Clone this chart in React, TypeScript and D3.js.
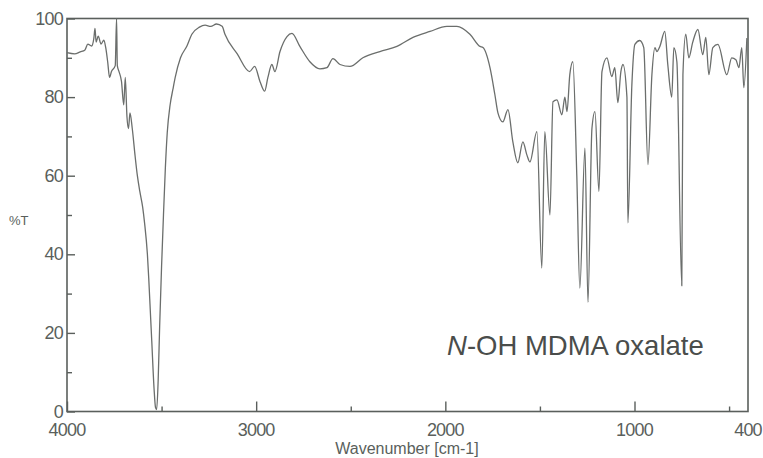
import React, { useEffect, useRef } from 'react';
import * as d3 from 'd3';

// spectrum: wavenumber (cm-1) and %T
const wavenumbers = [
    4000, 3960, 3930, 3905, 3890, 3870, 3858, 3852, 3846, 3835, 3820, 3805, 3795, 3785,
    3775, 3765, 3745, 3738, 3734, 3725, 3712, 3700, 3692, 3683, 3675, 3667, 3655, 3640,
    3628, 3615, 3600, 3590, 3575, 3568, 3560, 3552, 3540, 3532, 3526, 3518, 3510, 3500,
    3490, 3480, 3470, 3455, 3440, 3428, 3400, 3366, 3340, 3300, 3270, 3240, 3210, 3180,
    3165, 3100, 3035, 3008, 2980, 2955, 2938, 2917, 2901, 2874, 2837, 2811, 2769, 2716,
    2663, 2626, 2594, 2557, 2504, 2436, 2346, 2256, 2171, 2081, 1992, 1939, 1870, 1817,
    1801, 1764, 1738, 1722, 1696, 1669, 1643, 1617, 1590, 1569, 1553, 1516, 1490, 1474,
    1447, 1431, 1410, 1384, 1368, 1357, 1342, 1326, 1305, 1289, 1262, 1246, 1225, 1209,
    1188, 1172, 1146, 1120, 1104, 1088, 1072, 1061, 1040, 1035, 1014, 998, 972, 951,
    929, 908, 892, 882, 866, 840, 824, 803, 792, 776, 750, 744, 729, 713,
    692, 665, 639, 623, 607, 586, 559, 512, 486, 464, 448, 433, 422, 406,
];
const transmittance = [
    91.3, 91, 91.5, 92, 93.5, 93, 95, 97.5, 94, 95.5, 93.5, 94.5, 92.5, 89,
    85, 86.5, 88, 100, 88, 86.5, 84, 78, 85, 75, 72, 76, 72, 65,
    60, 56, 52, 48, 40, 34, 26, 18, 6, 1, 0.5, 8, 22, 37,
    50, 62, 71, 78, 82, 85, 90, 93, 96, 97.8, 98.3, 98, 98.6, 98,
    96, 91, 86.5, 87.8, 84, 81.5, 85, 88.3, 86.5, 91.6, 95.4, 96.2, 92.9, 89,
    87.2, 87.5, 89.8, 88.3, 87.8, 90, 91.6, 92.9, 95.2, 96.7, 98, 98, 96, 92.9,
    92.6, 87.5, 80.6, 76, 73.7, 76.8, 68.6, 63.3, 68.6, 65.3, 63.5, 71.2, 36.5, 71.2,
    50, 78.8, 79.3, 75.5, 80, 76.3, 85.7, 89, 60, 31.4, 67, 27.8, 72, 76.3,
    56, 86.5, 90, 85.2, 87.5, 78.6, 86.5, 88.3, 80, 48, 83, 93.4, 94.4, 92.6,
    62.8, 85.7, 92.6, 91.6, 92.9, 96.7, 88.3, 80, 92.6, 89, 32, 85.7, 96, 90,
    94, 97.2, 90.8, 95.2, 85.7, 92.6, 93.4, 85.7, 90, 89.5, 87.5, 92.6, 82.4, 95,
];

const xTicks = [4000, 3000, 2000, 1000, 400];
const xMinorTicks = [3500, 2500, 1500, 500];
const yTicks = [0, 20, 40, 60, 80, 100];
const yMinorTicks = [10, 30, 50, 70, 90];

const WIDTH = 763;
const HEIGHT = 458;
const AXIS = '#5a5f5c';
const INK = '#4a4d4b';

const App = () => {
    const ref = useRef<SVGSVGElement>(null);

    useEffect(() => {
        const svg = d3.select(ref.current);
        svg.selectAll('*').remove();

        const x = d3.scaleLinear().domain([4000, 400]).range([67, 748]);
        const y = d3.scaleLinear().domain([0, 100]).range([411.5, 18.5]);

        // frame: top and right sides are plain lines
        svg.append('rect')
            .attr('x', x(4000))
            .attr('y', y(100))
            .attr('width', x(400) - x(4000))
            .attr('height', y(0) - y(100))
            .attr('fill', 'none')
            .attr('stroke', AXIS)
            .attr('stroke-width', 1.6);

        // y axis, ticks pointing inward
        const yAxis = svg.append('g').attr('transform', `translate(${x(4000)},0)`);
        yAxis.call(d3.axisRight(y).tickValues(yTicks).tickSize(8).tickFormat(() => ''));
        yAxis.append('g').call(d3.axisRight(y).tickValues(yMinorTicks).tickSize(5).tickFormat(() => ''));
        yAxis.selectAll('.domain').remove();
        yAxis.selectAll('line').attr('stroke', AXIS).attr('stroke-width', 1.4);

        svg.selectAll('.ylab')
            .data(yTicks)
            .enter()
            .append('text')
            .attr('x', 63)
            .attr('y', (d) => y(d) + 6)
            .attr('text-anchor', 'end')
            .attr('font-size', 18)
            .attr('letter-spacing', -0.8)
            .attr('fill', AXIS)
            .text((d) => d);

        // x axis, ticks pointing up into the plot
        const xAxis = svg.append('g').attr('transform', `translate(0,${y(0)})`);
        xAxis.call(d3.axisTop(x).tickValues(xTicks.slice(0, 4)).tickSize(10).tickFormat(() => ''));
        xAxis.append('g').call(d3.axisTop(x).tickValues(xMinorTicks).tickSize(5).tickFormat(() => ''));
        xAxis.selectAll('.domain').remove();
        xAxis.selectAll('line').attr('stroke', AXIS).attr('stroke-width', 1.4);

        svg.selectAll('.xlab')
            .data(xTicks)
            .enter()
            .append('text')
            .attr('x', (d) => x(d))
            .attr('y', 436)
            .attr('text-anchor', 'middle')
            .attr('font-size', 18)
            .attr('letter-spacing', -0.8)
            .attr('fill', AXIS)
            .text((d) => d);

        svg.append('text')
            .attr('x', 407)
            .attr('y', 454)
            .attr('text-anchor', 'middle')
            .attr('font-size', 16)
            .attr('fill', AXIS)
            .text('Wavenumber [cm-1]');

        svg.append('text')
            .attr('x', 9)
            .attr('y', 225)
            .attr('font-size', 13)
            .attr('fill', AXIS)
            .text('%T');

        // the spectrum
        const points = wavenumbers.map((w, i) => [w, transmittance[i]] as [number, number]);
        const line = d3.line<[number, number]>()
            .x((d) => x(d[0]))
            .y((d) => y(d[1]))
            .curve(d3.curveMonotoneX);
        svg.append('path')
            .datum(points)
            .attr('d', line)
            .attr('fill', 'none')
            .attr('stroke', '#6b6e6c')
            .attr('stroke-width', 1.3)
            .attr('stroke-linejoin', 'round');

        // sample name
        const name = svg.append('text')
            .attr('x', 447)
            .attr('y', 355)
            .attr('font-size', 27.5)
            .attr('fill', INK);
        name.append('tspan').attr('font-style', 'italic').text('N');
        name.append('tspan').text('-OH MDMA oxalate');
    }, []);

    return (
        <svg
            ref={ref}
            width={WIDTH}
            height={HEIGHT}
            style={{ position: 'absolute', left: 0, top: 0, background: '#fff' }}
            fontFamily="'Liberation Sans', Arial, sans-serif"
        />
    );
};

export default App;
